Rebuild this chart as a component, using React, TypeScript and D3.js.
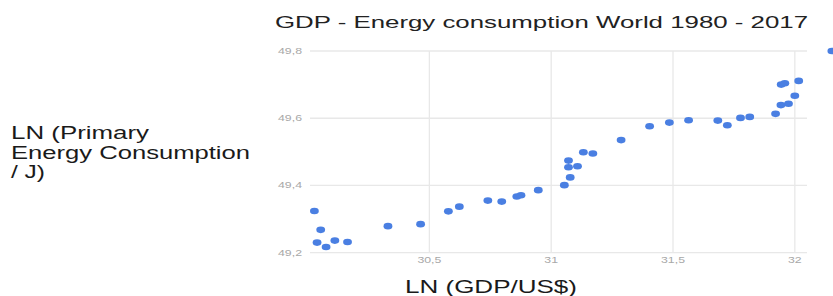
import React, { useEffect, useRef } from "react";
import * as d3 from "d3";

// world 1980 - 2017, natural logs
const lnGdp = [
  30.028, 30.054, 30.039, 30.076, 30.112, 30.164, 30.33, 30.464, 30.578, 30.623,
  30.74, 30.797, 30.859, 30.876, 30.947, 31.054, 31.078, 31.071, 31.108, 31.071,
  31.132, 31.171, 31.287, 31.404, 31.485, 31.564, 31.684, 31.723, 31.777, 31.815,
  31.921, 31.943, 31.974, 32.0, 31.944, 31.959, 32.016, 32.152,
];
const lnEnergy = [
  49.324, 49.268, 49.23, 49.217, 49.236, 49.232, 49.279, 49.285, 49.323, 49.337,
  49.355, 49.352, 49.367, 49.371, 49.386, 49.401, 49.424, 49.454, 49.457, 49.474,
  49.499, 49.495, 49.535, 49.576, 49.587, 49.594, 49.593, 49.579, 49.601, 49.604,
  49.613, 49.639, 49.643, 49.667, 49.7, 49.704, 49.711, 49.8,
];

const xTicks = [30.5, 31, 31.5, 32];
const xTickLabels = ["30,5", "31", "31,5", "32"];
const yTicks = [49.2, 49.4, 49.6, 49.8];
const yTickLabels = ["49,2", "49,4", "49,6", "49,8"];

const title = "GDP - Energy consumption World 1980 - 2017";
const yTitle = ["LN (Primary", "Energy Consumption", "/ J)"];
const xTitle = "LN (GDP/US$)";

const W = 833;
const H = 296;
const FONT = "Arial, 'Liberation Sans', sans-serif";
// the picture is stretched sideways, so text gets widened too
const SX = 1.45;

export default function App() {
  const ref = useRef<SVGSVGElement>(null);

  useEffect(() => {
    const svg = d3.select(ref.current);
    svg.selectAll("*").remove();

    const left = 310, right = 807, top = 51, bottom = 252.7;

    const x = d3.scaleLinear().domain([30.01, 32.05]).range([left, right]);
    const y = d3.scaleLinear().domain([49.2, 49.8]).range([bottom, top]);

    const grid = svg.append("g");
    grid.selectAll("line.h")
      .data(yTicks)
      .enter()
      .append("line")
      .attr("x1", left)
      .attr("x2", right)
      .attr("y1", (d) => y(d))
      .attr("y2", (d) => y(d))
      .attr("stroke", "#e8e8e8")
      .attr("stroke-width", 1.3);
    grid.selectAll("line.v")
      .data(xTicks)
      .enter()
      .append("line")
      .attr("x1", (d) => x(d))
      .attr("x2", (d) => x(d))
      .attr("y1", top)
      .attr("y2", bottom)
      .attr("stroke", "#e8e8e8")
      .attr("stroke-width", 1.3);

    // tick labels
    svg.append("g")
      .selectAll("text")
      .data(yTicks)
      .enter()
      .append("text")
      .attr("transform", (d) => `translate(302,${y(d) + 3}) scale(${SX},1)`)
      .attr("text-anchor", "end")
      .attr("font-family", FONT)
      .attr("font-size", 8.5)
      .attr("fill", "#a8a8a8")
      .text((d, i) => yTickLabels[i]);
    svg.append("g")
      .selectAll("text")
      .data(xTicks)
      .enter()
      .append("text")
      .attr("transform", (d) => `translate(${x(d)},263) scale(${SX},1)`)
      .attr("text-anchor", "middle")
      .attr("font-family", FONT)
      .attr("font-size", 8.5)
      .attr("fill", "#a8a8a8")
      .text((d, i) => xTickLabels[i]);

    // points
    svg.append("g")
      .selectAll("ellipse")
      .data(lnGdp)
      .enter()
      .append("ellipse")
      .attr("cx", (d) => x(d))
      .attr("cy", (d, i) => y(lnEnergy[i]))
      .attr("rx", 4.4)
      .attr("ry", 3.3)
      .attr("fill", "#4a7fe2");

    // titles
    svg.append("text")
      .attr("x", 275)
      .attr("y", 28)
      .attr("font-family", FONT)
      .attr("font-size", 17)
      .attr("fill", "#222")
      .attr("textLength", 533)
      .attr("lengthAdjust", "spacingAndGlyphs")
      .text(title);

    const yWidths = [138, 239, 34];
    svg.append("g")
      .selectAll("text")
      .data(yTitle)
      .enter()
      .append("text")
      .attr("x", 11)
      .attr("y", (d, i) => 139 + i * 19.6)
      .attr("font-family", FONT)
      .attr("font-size", 17.5)
      .attr("fill", "#1a1a1a")
      .attr("textLength", (d, i) => yWidths[i])
      .attr("lengthAdjust", "spacingAndGlyphs")
      .text((d) => d);

    svg.append("text")
      .attr("x", 405)
      .attr("y", 293)
      .attr("font-family", FONT)
      .attr("font-size", 17.5)
      .attr("fill", "#1a1a1a")
      .attr("textLength", 172)
      .attr("lengthAdjust", "spacingAndGlyphs")
      .text(xTitle);
  }, []);

  return (
    <svg
      ref={ref}
      width={W}
      height={H}
      style={{ position: "absolute", left: 0, top: 0, background: "#fff" }}
    />
  );
}
